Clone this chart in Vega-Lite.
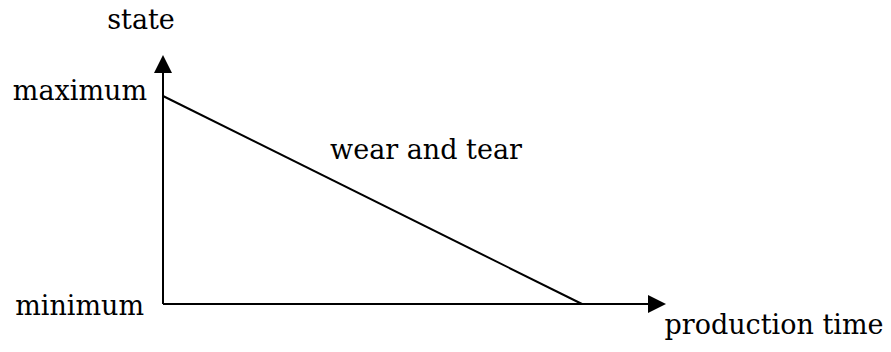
{
  "$schema": "https://vega.github.io/schema/vega-lite/v6.json",
  "width": 891,
  "height": 352,
  "autosize": {"type": "fit", "contains": "padding"},
  "padding": 0,
  "background": "white",
  "config": {"view": {"stroke": null}, "text": {"font": "DejaVu Serif"}},
  "datasets": {
    "axes": [
      {"name": "time axis", "x": 0, "y": 0, "x2": 497, "y2": 0},
      {"name": "state axis", "x": 0, "y": 0, "x2": 0, "y2": 243}
    ],
    "wear": [
      {"time": 0, "state": 208},
      {"time": 419, "state": 0}
    ],
    "tipUp": [{"x": 0, "y": 249}],
    "tipRight": [{"x": 503, "y": 0}],
    "labelsRight": [
      {"x": -16, "y": 204, "label": "maximum"},
      {"x": -19, "y": -11, "label": "minimum"}
    ],
    "labelsCenter": [
      {"x": -22, "y": 275, "label": "state"},
      {"x": 263, "y": 145, "label": "wear and tear"},
      {"x": 611, "y": -30, "label": "production time"}
    ]
  },
  "encoding": {},
  "layer": [
    {
      "data": {"name": "axes"},
      "mark": {"type": "rule", "color": "black", "strokeWidth": 2},
      "encoding": {
        "x": {"field": "x", "type": "quantitative", "scale": {"domain": [-163, 728], "nice": false, "zero": false}, "axis": null},
        "y": {"field": "y", "type": "quantitative", "scale": {"domain": [-48, 304], "nice": false, "zero": false}, "axis": null},
        "x2": {"field": "x2"},
        "y2": {"field": "y2"}
      }
    },
    {
      "data": {"name": "wear"},
      "mark": {"type": "line", "color": "black", "strokeWidth": 2},
      "encoding": {
        "x": {"field": "time", "type": "quantitative"},
        "y": {"field": "state", "type": "quantitative"}
      }
    },
    {
      "data": {"name": "tipUp"},
      "mark": {"type": "point", "shape": "M0,0L-1,2L1,2Z", "size": 324, "filled": true, "color": "black", "opacity": 1, "strokeWidth": 0},
      "encoding": {
        "x": {"field": "x", "type": "quantitative"},
        "y": {"field": "y", "type": "quantitative"}
      }
    },
    {
      "data": {"name": "tipRight"},
      "mark": {"type": "point", "shape": "M0,0L-2,-1L-2,1Z", "size": 324, "filled": true, "color": "black", "opacity": 1, "strokeWidth": 0},
      "encoding": {
        "x": {"field": "x", "type": "quantitative"},
        "y": {"field": "y", "type": "quantitative"}
      }
    },
    {
      "data": {"name": "labelsRight"},
      "mark": {"type": "text", "align": "right", "baseline": "alphabetic", "font": "DejaVu Serif", "fontSize": 27, "color": "black"},
      "encoding": {
        "x": {"field": "x", "type": "quantitative"},
        "y": {"field": "y", "type": "quantitative"},
        "text": {"field": "label"}
      }
    },
    {
      "data": {"name": "labelsCenter"},
      "mark": {"type": "text", "align": "center", "baseline": "alphabetic", "font": "DejaVu Serif", "fontSize": 27, "color": "black"},
      "encoding": {
        "x": {"field": "x", "type": "quantitative"},
        "y": {"field": "y", "type": "quantitative"},
        "text": {"field": "label"}
      }
    }
  ]
}
